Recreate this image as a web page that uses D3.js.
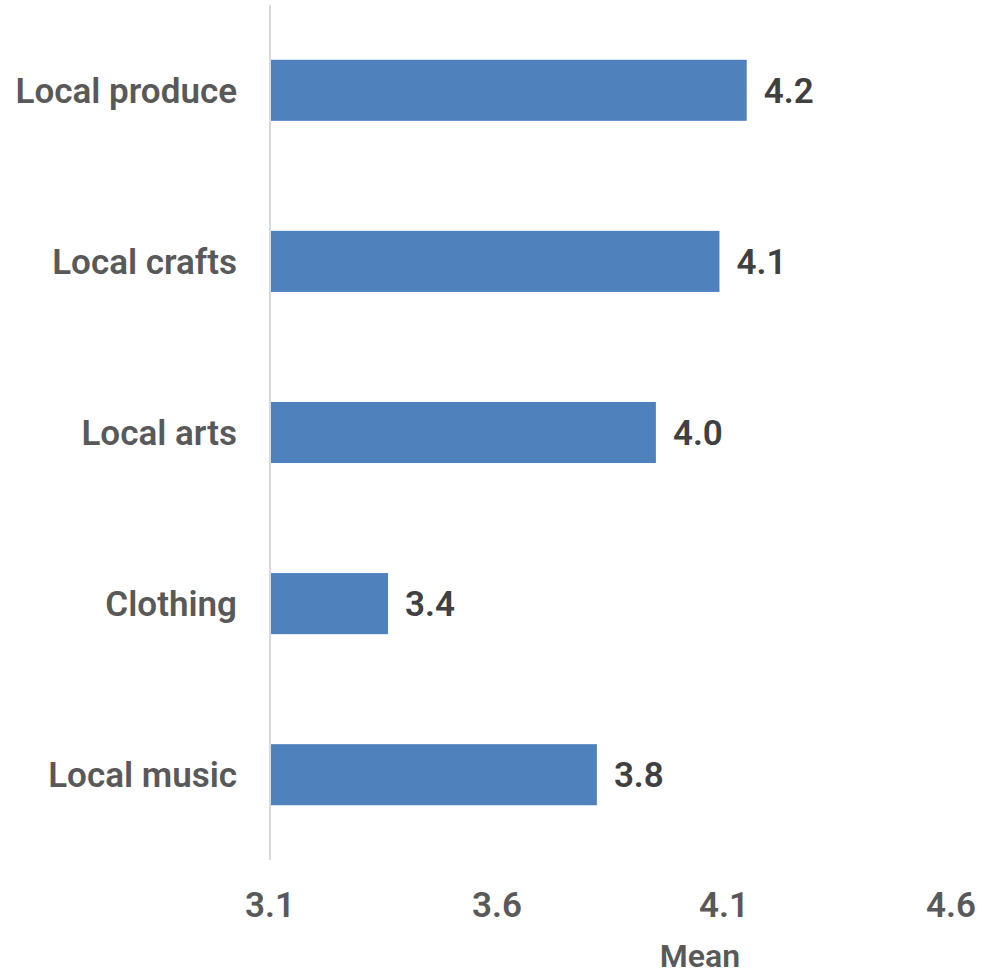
<!DOCTYPE html>
<html><head><meta charset="utf-8">
<script src="https://cdn.jsdelivr.net/npm/d3@7"></script>
<style>html,body{margin:0;padding:0;background:#fff;}</style>
</head><body>
<svg id="chart" width="996" height="975"></svg>
<script>
const categories = ["Local produce", "Local crafts", "Local arts", "Clothing", "Local music"];
const values = [4.15, 4.09, 3.95, 3.36, 3.82];
const valueLabels = ["4.2", "4.1", "4.0", "3.4", "3.8"];
const xTicks = [3.1, 3.6, 4.1, 4.6];
const xTitle = "Mean";

const FONT = "Roboto, 'Liberation Sans', Arial, sans-serif";
const svg = d3.select("#chart");
const x = d3.scaleLinear().domain([3.1, 4.6]).range([270, 951]);
const y = d3.scaleBand().domain(categories).range([5, 860]).paddingInner(0.643).paddingOuter(0.32);

svg.selectAll("rect.bar").data(categories).join("rect")
  .attr("class", "bar")
  .attr("x", x(3.1))
  .attr("y", d => y(d))
  .attr("width", (d, i) => x(values[i]) - x(3.1))
  .attr("height", y.bandwidth())
  .attr("fill", "#4f81bd");

svg.append("line")
  .attr("x1", x(3.1)).attr("x2", x(3.1))
  .attr("y1", 5).attr("y2", 860)
  .attr("stroke", "#d9d9d9").attr("stroke-width", 2);

svg.selectAll("text.cat").data(categories).join("text")
  .attr("class", "cat")
  .attr("x", 237)
  .attr("y", d => y(d) + y.bandwidth() / 2)
  .attr("dy", "0.35em")
  .attr("text-anchor", "end")
  .attr("font-family", FONT)
  .attr("font-weight", 600)
  .attr("font-size", 35)
  .attr("fill", "#595959")
  .text(d => d);

svg.selectAll("text.val").data(categories).join("text")
  .attr("class", "val")
  .attr("x", (d, i) => x(values[i]) + 17)
  .attr("y", d => y(d) + y.bandwidth() / 2)
  .attr("dy", "0.35em")
  .attr("font-family", FONT)
  .attr("font-weight", 600)
  .attr("font-size", 35)
  .attr("fill", "#404040")
  .text((d, i) => valueLabels[i]);

svg.selectAll("text.tick").data(xTicks).join("text")
  .attr("class", "tick")
  .attr("x", d => x(d))
  .attr("y", 905)
  .attr("dy", "0.35em")
  .attr("text-anchor", "middle")
  .attr("font-family", FONT)
  .attr("font-weight", 600)
  .attr("font-size", 35)
  .attr("fill", "#595959")
  .text(d => d3.format(".1f")(d));

svg.append("text")
  .attr("x", 700)
  .attr("y", 956)
  .attr("dy", "0.35em")
  .attr("text-anchor", "middle")
  .attr("font-family", FONT)
  .attr("font-weight", 600)
  .attr("font-size", 32)
  .attr("fill", "#595959")
  .text(xTitle);
</script>
</body></html>
